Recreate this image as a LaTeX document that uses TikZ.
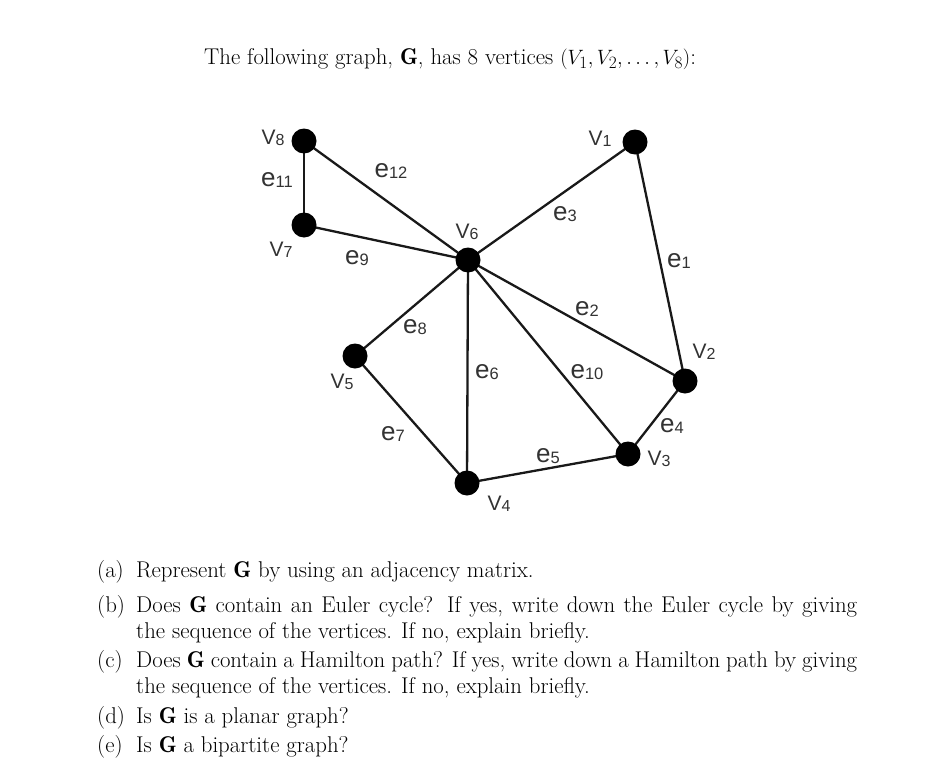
\documentclass[tikz,border=0pt]{standalone}
\usepackage{fontspec}
\usepackage{amsmath}
\newfontfamily\labfont{Liberation Sans}
\newcommand{\vlab}[1]{{\labfont\fontsize{21}{21}\selectfont V\fontsize{16}{16}\selectfont\raisebox{-1pt}{#1}}}
\newcommand{\elab}[1]{{\labfont\fontsize{26}{26}\selectfont e\fontsize{16.5}{16.5}\selectfont\raisebox{-1pt}{#1}}}
\tikzset{
  vtx/.style={circle,fill=black,inner sep=0pt,minimum size=25pt},
  edge/.style={draw=black!90,line width=2.3pt},
  lab/.style={inner sep=0pt,text=black!80},
  body/.style={inner sep=0pt,anchor=base west,font=\fontsize{22.8}{27}\selectfont,text=black},
  ttl/.style={inner sep=0pt,anchor=base west,font=\fontsize{22.8}{27}\selectfont,text=black}
}
\begin{document}
\begin{tikzpicture}[x=1pt,y=-1pt]
\path[use as bounding box,fill=white] (0,0) rectangle (934,784);
% vertex positions
\coordinate (v1) at (635,142);
\coordinate (v2) at (685,381);
\coordinate (v3) at (628,454);
\coordinate (v4) at (467,483);
\coordinate (v5) at (355,356);
\coordinate (v6) at (468,260);
\coordinate (v7) at (304,225);
\coordinate (v8) at (304,141);
% edges
\draw[edge] (v1) -- (v2);
\draw[edge] (v6) -- (v2);
\draw[edge] (v6) -- (v1);
\draw[edge] (v2) -- (v3);
\draw[edge] (v3) -- (v4);
\draw[edge] (v6) -- (v4);
\draw[edge] (v5) -- (v4);
\draw[edge] (v5) -- (v6);
\draw[edge] (v7) -- (v6);
\draw[edge] (v6) -- (v3);
\draw[edge] (v8) -- (v7);
\draw[edge] (v8) -- (v6);
% vertices
\foreach \n in {v1,v2,v3,v4,v5,v6,v7,v8}
  \node[vtx] (\n dot) at (\n) {};
% vertex labels
\node[lab] (l1) at (600,139) {\vlab{1}};
\node[lab] (l2) at (704,352) {\vlab{2}};
\node[lab] (l3) at (659,459) {\vlab{3}};
\node[lab] (l4) at (499,504) {\vlab{4}};
\node[lab] (l5) at (342,382) {\vlab{5}};
\node[lab] (l6) at (467,232) {\vlab{6}};
\node[lab] (l7) at (281,250) {\vlab{7}};
\node[lab] (l8) at (273,138) {\vlab{8}};
% edge labels
\node[lab] (e1) at (679,261) {\elab{1}};
\node[lab] (e2) at (587,309) {\elab{2}};
\node[lab] (e3) at (565,214) {\elab{3}};
\node[lab] (e4) at (672,426) {\elab{4}};
\node[lab] (e5) at (548,456) {\elab{5}};
\node[lab] (e6) at (487,372) {\elab{6}};
\node[lab] (e7) at (393,434) {\elab{7}};
\node[lab] (e8) at (415,327) {\elab{8}};
\node[lab] (e9) at (357,258) {\elab{9}};
\node[lab] (e10) at (587,372) {\elab{10}};
\node[lab] (e11) at (277,180) {\elab{11}};
\node[lab] (e12) at (391,171) {\elab{12}};
% text
\node[ttl] (title) at (204,65) {The following graph, $\mathbf{G}$, has 8 vertices $(V_1, V_2, \ldots, V_8)$:};
\node[body] (qa) at (97,577) {(a)};
\node[body] (ta) at (136,577) {Represent $\mathbf{G}$ by using an adjacency matrix.};
\node[body] (qb) at (97,612) {(b)};
\node[body] (tb1) at (136,612) {\makebox[721pt][s]{Does $\mathbf{G}$ contain an Euler cycle? If yes, write down the Euler cycle by giving}};
\node[body] (tb2) at (136,638) {the sequence of the vertices. If no, explain briefly.};
\node[body] (qc) at (97,667) {(c)};
\node[body] (tc1) at (136,667) {\makebox[721pt][s]{Does $\mathbf{G}$ contain a Hamilton path? If yes, write down a Hamilton path by giving}};
\node[body] (tc2) at (136,693) {the sequence of the vertices. If no, explain briefly.};
\node[body] (qd) at (97,723) {(d)};
\node[body] (td) at (136,723) {Is $\mathbf{G}$ is a planar graph?};
\node[body] (qe) at (97,752) {(e)};
\node[body] (te) at (136,752) {Is $\mathbf{G}$ a bipartite graph?};
\end{tikzpicture}
\end{document}
